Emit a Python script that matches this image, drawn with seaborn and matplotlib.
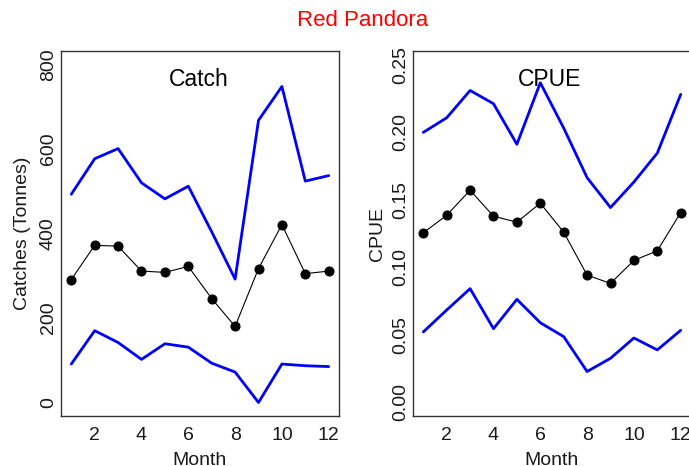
import numpy as np
import pandas as pd
import matplotlib
matplotlib.use("Agg")
import matplotlib.pyplot as plt
import seaborn as sns

# Monthly catch (tonnes) with lower / upper bounds
months = list(range(1, 13))
catch_mean = [291, 372, 370, 311, 308, 322, 246, 180, 317, 421, 305, 311]
catch_upper = [493, 577, 601, 520, 482, 512, 404, 292, 668, 748, 524, 537]
catch_lower = [91, 170, 142, 102, 139, 131, 93, 72, 0, 91, 87, 85]

# Monthly catch per unit effort with lower / upper bounds
cpue_mean = [0.1255, 0.1385, 0.157, 0.1378, 0.1334, 0.1474, 0.126, 0.0942,
             0.0881, 0.1051, 0.1122, 0.1405]
cpue_upper = [0.1998, 0.2106, 0.2308, 0.221, 0.191, 0.2365, 0.203, 0.1663,
              0.1442, 0.1631, 0.1845, 0.2279]
cpue_lower = [0.0522, 0.0684, 0.0842, 0.0546, 0.0763, 0.059, 0.0487, 0.0229,
              0.0327, 0.0477, 0.0389, 0.0534]

sns.set_style("white")
plt.rcParams["font.family"] = ["Liberation Sans", "DejaVu Sans"]
TXT = "#1a1a1a"

fig = plt.figure(figsize=(6.89, 4.66), dpi=100)
W, H = 689, 466


def panel(left_px, mean, upper, lower, ylim, yticks, yticklabels, ylabel,
          title, title_x, ylabelpad):
    ax = fig.add_axes([left_px / W, 1 - 416 / H, 278 / W, (416 - 51) / H])
    df = pd.DataFrame({"Month": months, "mean": mean,
                       "upper": upper, "lower": lower})
    sns.lineplot(data=df, x="Month", y="upper", color="#0000ff",
                 linewidth=2.0, ax=ax)
    sns.lineplot(data=df, x="Month", y="lower", color="#0000ff",
                 linewidth=2.0, ax=ax)
    sns.lineplot(data=df, x="Month", y="mean", color="black", linewidth=0.8,
                 marker="o", markersize=6.5, markeredgecolor="black",
                 markerfacecolor="black", ax=ax)
    ax.set_xlim(0.56, 12.44)
    ax.set_ylim(*ylim)
    ax.set_xticks([2, 4, 6, 8, 10, 12])
    ax.set_yticks(yticks)
    ax.set_yticklabels(yticklabels, rotation=90, va="center")
    ax.tick_params(axis="both", direction="out", length=5, width=0.8,
                   labelsize=14, colors="#333333", labelcolor=TXT)
    ax.tick_params(axis="x", pad=3)
    ax.tick_params(axis="y", pad=-2)
    ax.set_xlabel("Month", fontsize=14, color=TXT, labelpad=6)
    ax.set_ylabel(ylabel, fontsize=14, color=TXT, labelpad=ylabelpad)
    for s in ax.spines.values():
        s.set_visible(True)
        s.set_color("#333333")
        s.set_linewidth(1.0)
    fig.text(title_x / W, 1 - 80 / H, title, fontsize=16.5, color="black",
             ha="center", va="center")
    return ax


panel(61, catch_mean, catch_upper, catch_lower, (-32, 832),
      [0, 200, 400, 600, 800], ["0", "200", "400", "600", "800"],
      "Catches (Tonnes)", "Catch", 199, 6.5)
panel(413, cpue_mean, cpue_upper, cpue_lower, (-0.01, 0.26),
      [0.0, 0.05, 0.10, 0.15, 0.20, 0.25],
      ["0.00", "0.05", "0.10", "0.15", "0.20", "0.25"],
      "CPUE", "CPUE", 550, 4)

fig.text(363 / W, 1 - 20 / H, "Red Pandora", fontsize=16, color="#ff0000",
         ha="center", va="center")

fig.savefig("out.png", dpi=100)
